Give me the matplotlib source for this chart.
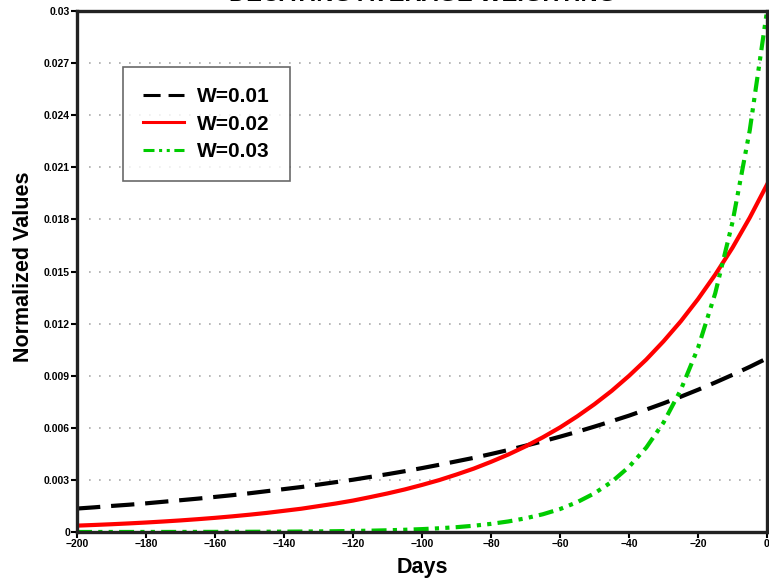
import matplotlib
matplotlib.use("Agg")
import matplotlib.pyplot as plt

days = list(range(-200, 1, 5))

w001 = [0.00135, 0.00142, 0.00150, 0.00157, 0.00165, 0.00174, 0.00183, 0.00192, 0.00202, 0.00212,
        0.00223, 0.00235, 0.00247, 0.00259, 0.00273, 0.00287, 0.00301, 0.00317, 0.00333, 0.00350,
        0.00368, 0.00387, 0.00407, 0.00427, 0.00449, 0.00472, 0.00497, 0.00522, 0.00549, 0.00577,
        0.00607, 0.00638, 0.00670, 0.00705, 0.00741, 0.00779, 0.00819, 0.00861, 0.00905, 0.00951,
        0.01000]
w002 = [0.000366, 0.000405, 0.000447, 0.000494, 0.000546, 0.000604, 0.000667, 0.000738, 0.000815, 0.000901,
        0.000996, 0.00110, 0.00122, 0.00134, 0.00149, 0.00164, 0.00181, 0.00201, 0.00222, 0.00245,
        0.00271, 0.00299, 0.00331, 0.00365, 0.00404, 0.00446, 0.00493, 0.00545, 0.00602, 0.00666,
        0.00736, 0.00813, 0.00899, 0.00993, 0.01098, 0.01213, 0.01341, 0.01482, 0.01637, 0.01810,
        0.02000]
w003 = [0.0000009, 0.0000012, 0.0000015, 0.0000020, 0.0000026, 0.0000034, 0.0000044, 0.0000056, 0.0000073, 0.0000095,
        0.0000123, 0.0000159, 0.0000207, 0.0000268, 0.0000348, 0.0000451, 0.0000585, 0.0000758, 0.0000983, 0.000128,
        0.000166, 0.000215, 0.000278, 0.000361, 0.000468, 0.000607, 0.000788, 0.00102, 0.00132, 0.00172,
        0.00223, 0.00289, 0.00375, 0.00486, 0.00630, 0.00818, 0.01060, 0.01375, 0.01784, 0.02313,
        0.03000]

labels = ["W=0.01", "W=0.02", "W=0.03"]
xticks = list(range(-200, 1, 20))
yticks = [0, 0.003, 0.006, 0.009, 0.012, 0.015, 0.018, 0.021, 0.024, 0.027, 0.03]
ytick_labels = ["0", "0.003", "0.006", "0.009", "0.012", "0.015", "0.018", "0.021", "0.024", "0.027", "0.03"]

plt.rcParams['font.family'] = ['Liberation Sans', 'DejaVu Sans']

fig = plt.figure(figsize=(7.69, 5.79), dpi=100)
ax = fig.add_axes([77 / 769, 47 / 579, 690 / 769, 521 / 579])

for y in yticks[1:-1]:
    ax.axhline(y, xmin=0.018, color='#aaaaaa', linestyle=(0, (1, 5)), linewidth=1.2, zorder=0)

ax.plot(days, w001, color='black', linewidth=3.0, linestyle=(0, (5.6, 2.6)), label=labels[0])
ax.plot(days, w002, color='#ff0000', linewidth=3.0, linestyle='-', label=labels[1])
ax.plot(days, w003, color='#00cc00', linewidth=3.0,
        linestyle=(0, (3.6, 1.5, 1, 1.5, 1, 1.5)), label=labels[2])

ax.set_xlim(-200, 0)
ax.set_ylim(0, 0.03)
ax.set_xticks(xticks)
ax.set_xticklabels([str(x).replace('-', '\u2212') for x in xticks])
ax.set_yticks(yticks)
ax.set_yticklabels(ytick_labels)
ax.tick_params(direction='out', length=4, width=1.5, labelsize=7.5, pad=1)
for lab in ax.get_xticklabels() + ax.get_yticklabels():
    lab.set_fontweight('bold')
for s in ax.spines.values():
    s.set_linewidth(2.4)
    s.set_color('#222222')

ax.set_xlabel("Days", fontsize=15.5, fontweight='bold', va='center')
ax.xaxis.set_label_coords(0.5, -0.068)
ax.set_ylabel("Normalized Values", fontsize=15.5, fontweight='bold', va='center')
ax.yaxis.set_label_coords(-0.078, 0.51)

fig.text(0.55, 1 - 1 / 579, "DECAYING AVERAGE WEIGHTING", fontsize=17, fontweight='bold',
         ha='center', va='baseline')

leg = ax.legend(loc='upper left', bbox_to_anchor=(46 / 690, 0.8925), borderaxespad=0,
                fontsize=15, frameon=True, fancybox=False, edgecolor='#444444',
                handlelength=2.0, borderpad=0.95, labelspacing=0.42, handletextpad=0.6)
leg.get_frame().set_linewidth(1.2)
for t in leg.get_texts():
    t.set_fontweight('bold')
for h in leg.get_lines():
    h.set_linewidth(2.2)

fig.savefig("out.png", dpi=100)
